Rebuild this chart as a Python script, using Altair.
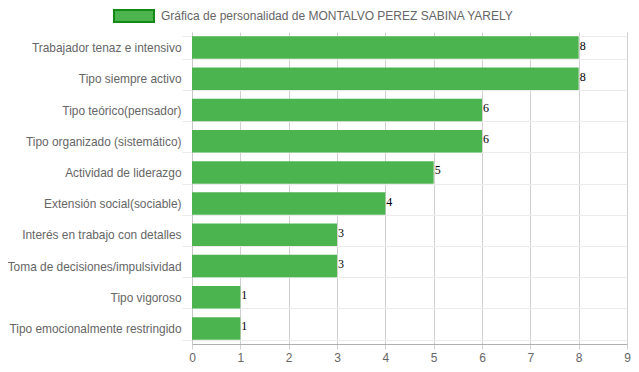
import altair as alt
import pandas as pd

categories = [
    "Trabajador tenaz e intensivo",
    "Tipo siempre activo",
    "Tipo teórico(pensador)",
    "Tipo organizado (sistemático)",
    "Actividad de liderazgo",
    "Extensión social(sociable)",
    "Interés en trabajo con detalles",
    "Toma de decisiones/impulsividad",
    "Tipo vigoroso",
    "Tipo emocionalmente restringido",
]
values = [8, 8, 6, 6, 5, 4, 3, 3, 1, 1]
series_name = "Gráfica de personalidad de MONTALVO PEREZ SABINA YARELY"

df = pd.DataFrame({"cat": categories, "val": values, "series": [series_name] * len(values)})

y_enc = alt.Y(
    "cat:N",
    sort=None,
    title=None,
    scale=alt.Scale(paddingInner=0.28, paddingOuter=0.14),
    axis=alt.Axis(
        tickBand="extent",
        grid=True,
        gridColor="#ebebeb",
        tickColor="#ebebeb",
        tickSize=10,
        labelPadding=1,
        domainColor="#c8c8c8",
        labelColor="#666666",
        labelFont="Liberation Sans",
        labelFontSize=11.9,
        labelLimit=300,
    ),
)

x_enc = alt.X(
    "val:Q",
    title=None,
    scale=alt.Scale(domain=[0, 9], nice=False),
    axis=alt.Axis(
        values=list(range(10)),
        grid=True,
        gridColor="#d0d0d0",
        tickColor="#d0d0d0",
        tickSize=5,
        labelPadding=3,
        labelFlush=False,
        domainColor="#b0b0b0",
        labelColor="#666666",
        labelFont="Liberation Sans",
        labelFontSize=12,
    ),
)

bars = alt.Chart(df).mark_bar(opacity=1).encode(
    x=x_enc,
    y=y_enc,
    color=alt.Color(
        "series:N",
        scale=alt.Scale(range=["#4cb44f"]),
        legend=alt.Legend(
            title=None,
            orient="none",
            legendX=-79,
            legendY=-37,
            symbolType="M-1,-0.3H1V0.3H-1Z",
            symbolSize=1600,
            symbolStrokeColor="#138a13",
            symbolStrokeWidth=2,
            symbolFillColor="#4cb44f",
            symbolOpacity=1,
            labelColor="#666666",
            labelFont="Liberation Sans",
            labelFontSize=12,
            labelLimit=600,
            labelOffset=6,
            padding=0,
        ),
    ),
)

labels = alt.Chart(df).mark_text(
    align="left", baseline="alphabetic", dx=1, dy=2,
    font="Liberation Serif", fontSize=12, color="#000000",
).encode(x="val:Q", y=alt.Y("cat:N", sort=None), text="val:Q")

chart = alt.layer(bars, labels).properties(
    width=435,
    height=312,
    autosize=alt.AutoSizeParams(type="none"),
    padding={"left": 184, "top": 24, "right": 4, "bottom": 20},
).configure_view(stroke=None)

chart.save("out.html", embed_options={"renderer": "svg", "actions": False})
